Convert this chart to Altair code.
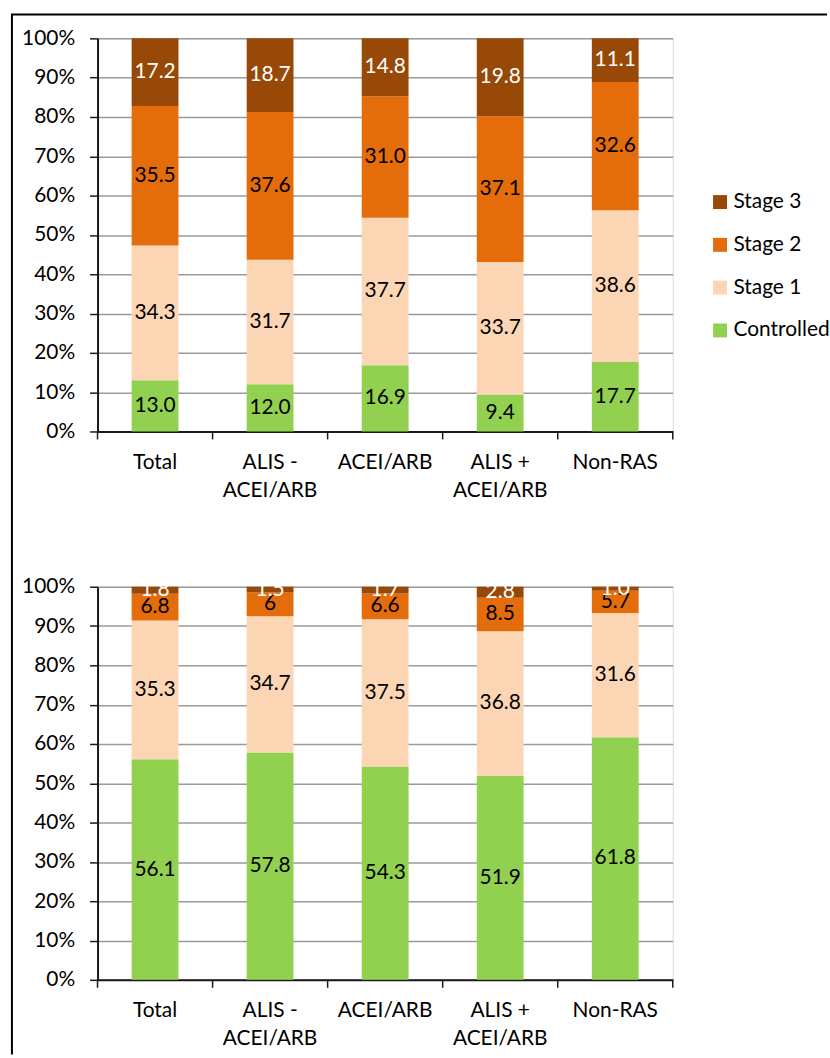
import altair as alt
import pandas as pd

# Blood-pressure stage shares by treatment group (percent of patients)
groups = ["Total", "ALIS -\nACEI/ARB", "ACEI/ARB", "ALIS +\nACEI/ARB", "Non-RAS"]
stages = ["Stage 3", "Stage 2", "Stage 1", "Controlled"]
colors = ["#984807", "#E46C0A", "#FCD5B5", "#92D050"]

# upper panel
top_controlled = [13.0, 12.0, 16.9, 9.4, 17.7]
top_stage1 = [34.3, 31.7, 37.7, 33.7, 38.6]
top_stage2 = [35.5, 37.6, 31.0, 37.1, 32.6]
top_stage3 = [17.2, 18.7, 14.8, 19.8, 11.1]
top_labels = {
    "Controlled": ["13.0", "12.0", "16.9", "9.4", "17.7"],
    "Stage 1": ["34.3", "31.7", "37.7", "33.7", "38.6"],
    "Stage 2": ["35.5", "37.6", "31.0", "37.1", "32.6"],
    "Stage 3": ["17.2", "18.7", "14.8", "19.8", "11.1"],
}

# lower panel
bot_controlled = [56.1, 57.8, 54.3, 51.9, 61.8]
bot_stage1 = [35.3, 34.7, 37.5, 36.8, 31.6]
bot_stage2 = [6.8, 6.0, 6.6, 8.5, 5.7]
bot_stage3 = [1.8, 1.5, 1.7, 2.8, 1.0]
bot_labels = {
    "Controlled": ["56.1", "57.8", "54.3", "51.9", "61.8"],
    "Stage 1": ["35.3", "34.7", "37.5", "36.8", "31.6"],
    "Stage 2": ["6.8", "6", "6.6", "8.5", "5.7"],
    "Stage 3": ["1.8", "1.5", "1.7", "2.8", "1.0"],
}

FONT = "Lato"
W, H = 578, 395
GAP = 156  # vertical distance between the two plot areas


def make_frame(ctrl, s1, s2, s3, labels):
    rows = []
    series = {"Controlled": ctrl, "Stage 1": s1, "Stage 2": s2, "Stage 3": s3}
    order = {"Controlled": 0, "Stage 1": 1, "Stage 2": 2, "Stage 3": 3}
    for st, vals in series.items():
        for g, v, lab in zip(groups, vals, labels[st]):
            rows.append({"group": g, "stage": st, "value": v,
                         "order": order[st], "label": lab})
    return pd.DataFrame(rows)


x_axis = alt.Axis(labelExpr="split(datum.label, '\\n')", title=None,
                  labelAngle=0, ticks=False, grid=False,
                  domain=True, domainColor="#1a1a1a", domainWidth=2,
                  labelFont=FONT, labelFontSize=21, labelColor="#000",
                  labelPadding=31, labelLineHeight=28, labelBaseline="middle")
y_axis = alt.Axis(values=[i / 10 for i in range(11)], format=".0%", title=None,
                  grid=True, gridColor="#9a9a9a", gridWidth=1.5,
                  domainColor="#1a1a1a", domainWidth=2,
                  tickColor="#1a1a1a", tickWidth=1.5, tickSize=8,
                  labelFont=FONT, labelFontSize=21, labelColor="#000",
                  labelPadding=15)
x_scale = alt.Scale(paddingInner=0, paddingOuter=0)
y_scale = alt.Scale(domain=[0, 1], nice=False)


def panel(df, with_frame):
    base = alt.Chart(df).transform_stack(
        stack="value", groupby=["group"], as_=["y0", "y1"],
        sort=[alt.SortField("order", order="ascending")], offset="normalize"
    ).transform_calculate(mid="(datum.y0 + datum.y1) / 2")

    bars = base.mark_bar(width=alt.RelativeBandSize(0.407)).encode(
        x=alt.X("group:N", sort=groups, title=None, scale=x_scale, axis=x_axis),
        y=alt.Y("y0:Q", title=None, scale=y_scale, axis=y_axis),
        y2="y1:Q",
        color=alt.Color("stage:N",
                        scale=alt.Scale(domain=stages, range=colors),
                        legend=alt.Legend(title=None, orient="none",
                                          legendX=615, legendY=154,
                                          symbolType="square", symbolSize=196,
                                          symbolStrokeWidth=0,
                                          labelFont=FONT, labelFontSize=21,
                                          labelColor="#000", labelOffset=3,
                                          rowPadding=21, padding=0)),
    )

    texts = base.mark_text(font=FONT, fontSize=21, baseline="middle").encode(
        x=alt.X("group:N", sort=groups, title=None, scale=x_scale, axis=x_axis),
        y=alt.Y("mid:Q", title=None, scale=y_scale, axis=y_axis),
        text="label:N",
        color=alt.condition(alt.datum.stage == "Stage 3",
                            alt.value("white"), alt.value("black")),
    )

    # category separator ticks below the x axis
    tick_df = pd.DataFrame({"group": groups})
    ticks_left = alt.Chart(tick_df).mark_rule(color="#1a1a1a", strokeWidth=1.5).encode(
        x=alt.X("group:N", sort=groups, bandPosition=0, title=None,
                scale=x_scale, axis=x_axis),
        y=alt.value(H), y2=alt.value(H + 8))
    ticks_right = alt.Chart(tick_df.tail(1)).mark_rule(color="#1a1a1a", strokeWidth=1.5).encode(
        x=alt.X("group:N", sort=groups, bandPosition=1, title=None,
                scale=x_scale, axis=x_axis),
        y=alt.value(H), y2=alt.value(H + 8))

    layers = [bars, texts, ticks_left, ticks_right]

    if with_frame:
        # outer frame: left and top border lines
        one = tick_df.head(1)
        left = alt.Chart(one).mark_rule(color="black", strokeWidth=2).encode(
            x=alt.value(-86), y=alt.value(-24), y2=alt.value(1058 - 37))
        top = alt.Chart(one).mark_rule(color="black", strokeWidth=2).encode(
            x=alt.value(-87), x2=alt.value(733), y=alt.value(-24))
        layers += [left, top]

    return alt.layer(*layers).properties(width=W, height=H)


top_df = make_frame(top_controlled, top_stage1, top_stage2, top_stage3, top_labels)
bot_df = make_frame(bot_controlled, bot_stage1, bot_stage2, bot_stage3, bot_labels)

upper = panel(top_df, True)
lower = panel(bot_df, False)

chart = alt.vconcat(upper, lower, spacing=GAP, bounds="flush").properties(
    padding={"left": 9, "top": 10, "right": 0, "bottom": 0}
).configure_view(stroke=None).configure(background="white")

chart.save("out.html", embed_options={"renderer": "svg", "actions": False})
